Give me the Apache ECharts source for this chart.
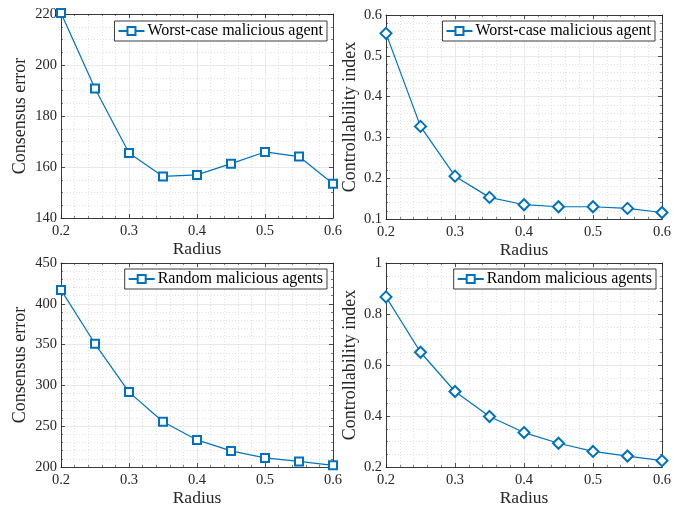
<!DOCTYPE html>
<html><head><meta charset="utf-8">
<script src="https://cdn.jsdelivr.net/npm/echarts@6/dist/echarts.min.js"></script>
<style>html,body{margin:0;padding:0;background:#fff}#c{width:686px;height:508px}</style>
</head><body><div id="c"></div>
<script>
const radius = [0.2, 0.25, 0.3, 0.35, 0.4, 0.45, 0.5, 0.55, 0.6];
const worstError = [220.4, 190.8, 165.5, 156.3, 156.9, 161.3, 165.9, 164.1, 153.4];
const worstCtrl = [0.555, 0.327, 0.205, 0.153, 0.135, 0.130, 0.130, 0.126, 0.116];
const randomError = [417.0, 351.0, 291.8, 255.4, 233.2, 219.7, 211.1, 206.8, 202.0];
const randomCtrl = [0.867, 0.650, 0.496, 0.398, 0.335, 0.293, 0.261, 0.243, 0.225];
const xTicks = {min: 0.2, max: 0.6, interval: 0.1};
const names = ['Worst-case malicious agent', 'Worst-case malicious agent', 'Random malicious agents', 'Random malicious agents'];

const FONT = "'Liberation Serif','Times New Roman',serif";
const AX = '#262626';
const BLUE = '#0072BD';

const panels = [
  {grid:{left:61,top:14,width:272,height:204}, y:{min:140,max:220,interval:20,minor:4}, yName:'Consensus error', yGap:32, data:worstError, sym:'emptyRect', size:8, name:names[0], legend:{right:359,top:21}},
  {grid:{left:386,top:15,width:276,height:204}, y:{min:0.1,max:0.6,interval:0.1,minor:5}, yName:'Controllability index', yGap:27, data:worstCtrl, sym:'emptyDiamond', size:11, name:names[1], legend:{right:31,top:21}},
  {grid:{left:61,top:263,width:272,height:204}, y:{min:200,max:450,interval:50,minor:5}, yName:'Consensus error', yGap:32, data:randomError, sym:'emptyRect', size:8, name:names[2], legend:{right:359,top:269}},
  {grid:{left:386,top:263,width:276,height:204}, y:{min:0.2,max:1,interval:0.2,minor:4}, yName:'Controllability index', yGap:27, data:randomCtrl, sym:'emptyDiamond', size:11, name:names[3], legend:{right:30,top:269}}
];

const grid=[], xAxis=[], yAxis=[], series=[], legend=[];
panels.forEach((p,i)=>{
  grid.push(Object.assign({backgroundColor:'#fff', show:false}, p.grid));
  const common = {
    axisLine:{show:true, onZero:false, lineStyle:{color:AX, width:0.9}},
    axisTick:{show:true, inside:true, length:4, lineStyle:{color:AX, width:0.8}},
  };
  xAxis.push(Object.assign({}, common, {
    type:'value', gridIndex:i, position:'bottom', min:xTicks.min, max:xTicks.max, interval:xTicks.interval,
    minorTick:{show:true, splitNumber:5, length:2, lineStyle:{color:AX, width:0.6}},
    axisLabel:{show:true, color:AX, fontFamily:FONT, fontSize:14.5, margin:6, formatter:v=>v.toFixed(1)},
    splitLine:{show:true, lineStyle:{color:'#e3e3e3', width:0.8}},
    minorSplitLine:{show:true, lineStyle:{color:'#d6d6d6', width:0.7, type:[1,2]}},
    name:'Radius', nameLocation:'middle', nameGap:22,
    nameTextStyle:{color:AX, fontFamily:FONT, fontSize:17.5, verticalAlign:'top'}
  }));
  xAxis.push(Object.assign({}, common, {
    type:'value', gridIndex:i, position:'top', min:xTicks.min, max:xTicks.max, interval:xTicks.interval,
    minorTick:{show:true, splitNumber:5, length:2, lineStyle:{color:AX, width:0.6}},
    axisLabel:{show:false}, splitLine:{show:false}
  }));
  yAxis.push(Object.assign({}, common, {
    type:'value', gridIndex:i, position:'left', min:p.y.min, max:p.y.max, interval:p.y.interval,
    minorTick:{show:true, splitNumber:p.y.minor, length:2, lineStyle:{color:AX, width:0.6}},
    axisLabel:{show:true, color:AX, fontFamily:FONT, fontSize:14.5, margin:4},
    splitLine:{show:true, lineStyle:{color:'#e3e3e3', width:0.8}},
    minorSplitLine:{show:true, lineStyle:{color:'#d6d6d6', width:0.7, type:[1,2]}},
    name:p.yName, nameLocation:'middle', nameGap:p.yGap, nameRotate:90,
    nameTextStyle:{color:AX, fontFamily:FONT, fontSize:18}
  }));
  yAxis.push(Object.assign({}, common, {
    type:'value', gridIndex:i, position:'right', min:p.y.min, max:p.y.max, interval:p.y.interval,
    minorTick:{show:true, splitNumber:p.y.minor, length:2, lineStyle:{color:AX, width:0.6}},
    axisLabel:{show:false}, splitLine:{show:false}
  }));
  series.push({
    type:'line', name:p.name, xAxisIndex:2*i, yAxisIndex:2*i, clip:false,
    data: radius.map((r,k)=>[r, p.data[k]]),
    symbol:p.sym, symbolSize:p.size, showAllSymbol:true,
    lineStyle:{color:BLUE, width:1.2},
    itemStyle:{color:BLUE, borderColor:BLUE, borderWidth:1},
    emphasis:{disabled:true}, animation:false, z:5
  });
  legend.push(Object.assign({
    data:[{name:p.name}], seriesIndex:i,
    orient:'vertical', backgroundColor:'#fff', borderColor:AX, borderWidth:0.9, borderRadius:0,
    padding:[2,4,2,3], itemWidth:26, itemHeight:10, itemGap:0,
    textStyle:{color:'#000', fontFamily:FONT, fontSize:16, padding:[0,0,0,-2]},
    selectedMode:false
  }, p.legend));
});

const chart = echarts.init(document.getElementById('c'), null, {renderer:'canvas'});
chart.setOption({backgroundColor:'#fff', animation:false, grid, xAxis, yAxis, series, legend});
</script></body></html>
